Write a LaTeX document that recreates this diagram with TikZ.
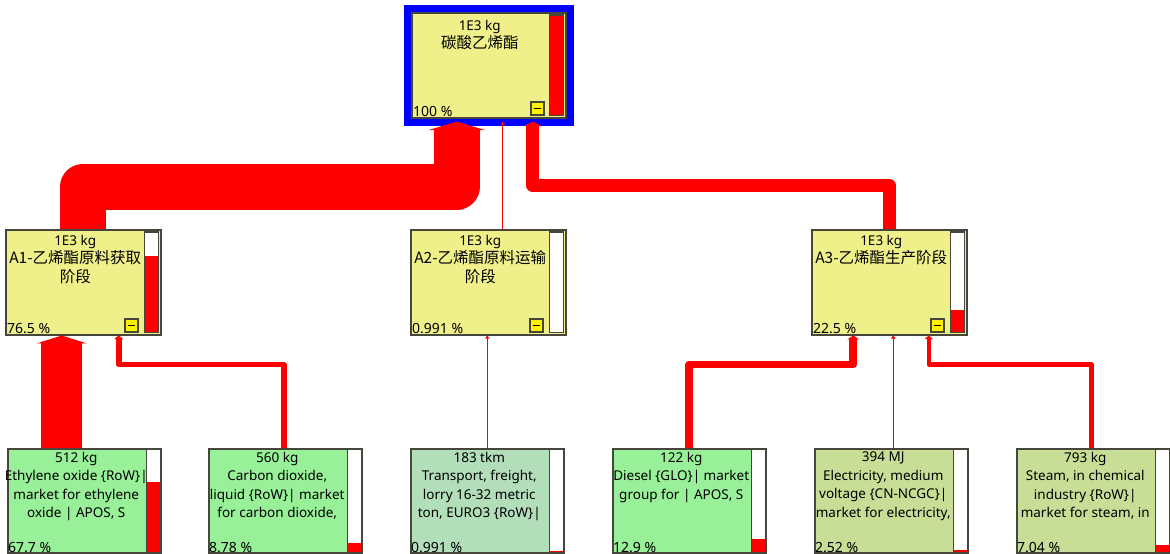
\documentclass[tikz,border=0pt]{standalone}
\usepackage{fontspec}
\setmainfont{Noto Sans}
\newfontfamily\cjk{Noto Sans CJK SC}
\usetikzlibrary{calc,arrows.meta}

\definecolor{procyellow}{RGB}{240,240,138}
\definecolor{procgreen}{RGB}{152,240,152}
\definecolor{transgreen}{RGB}{178,222,186}
\definecolor{olivegreen}{RGB}{200,222,150}
\definecolor{boxgray}{RGB}{70,70,60}

\tikzset{
  procbox/.style={draw=boxgray, line width=1.5pt, minimum width=155pt, minimum height=105pt, anchor=north west, inner sep=0pt},
  proctext/.style={anchor=north, align=center, inner sep=0pt, font=\fontsize{13.5}{18.5}\selectfont},
  pcttext/.style={anchor=south west, inner sep=2pt, font=\fontsize{14}{16}\selectfont},
  minusbox/.style={draw=boxgray, line width=1.2pt, fill=yellow, minimum size=13pt, inner sep=0pt, anchor=south east},
  flow/.style={draw=red, line join=round, -{Triangle[width=3pt 1.15, length=3pt 0.12]}},
}

% result bar: node, inset, fraction
\newcommand{\resbar}[3]{
  \coordinate (#1-bb) at ($(#1.south east)+(-#2pt,#2pt)$);
  \coordinate (#1-bt) at ($(#1.north east)+(-#2pt,-#2pt)$);
  \fill[white] ($(#1-bb)+(-14pt,0pt)$) rectangle (#1-bt);
  \fill[red] ($(#1-bb)+(-14pt,0pt)$) rectangle ($(#1-bb)!#3!(#1-bt)$);
  \draw[boxgray, line width=1.2pt] ($(#1-bb)+(-14pt,0pt)$) rectangle (#1-bt);
}
\newcommand{\cjkline}[1]{{\cjk\fontsize{15.5}{18.5}\selectfont #1}}

\begin{document}
\begin{tikzpicture}[x=1pt, y=-1pt]
  \useasboundingbox (0,0) rectangle (1170,554);

  % top process
  \node[procbox, fill=procyellow, minimum width=154pt] (top) at (411,12) {};
  \draw[blue, line width=7pt] ($(top.north west)+(-4pt,4pt)$) rectangle ($(top.south east)+(4pt,-4pt)$);
  \node[proctext] at ($(top.north)+(-9pt,-8pt)$) {1E3 kg\\\cjkline{碳酸乙烯酯}};
  \node[pcttext] at (top.south west) {100 \%};
  \resbar{top}{3}{1}
  \node[minusbox] at ($(top-bb)+(-19pt,0pt)$) {\rule{7pt}{1.2pt}};

  % life cycle stages
  \node[procbox, fill=procyellow] (a1) at (5,229) {};
  \node[procbox, fill=procyellow] (a2) at (410,229) {};
  \node[procbox, fill=procyellow] (a3) at (811,229) {};
  \node[proctext] at ($(a1.north)+(-8pt,-6pt)$) {1E3 kg\\\cjkline{A1-乙烯酯原料获取}\\\cjkline{阶段}};
  \node[proctext] at ($(a2.north)+(-8pt,-6pt)$) {1E3 kg\\\cjkline{A2-乙烯酯原料运输}\\\cjkline{阶段}};
  \node[proctext] at ($(a3.north)+(-8pt,-6pt)$) {1E3 kg\\\cjkline{A3-乙烯酯生产阶段}};
  \node[pcttext] at (a1.south west) {76.5 \%};
  \node[pcttext] at (a2.south west) {0.991 \%};
  \node[pcttext] at (a3.south west) {22.5 \%};
  \resbar{a1}{3}{0.765}
  \resbar{a2}{3}{0.00991}
  \resbar{a3}{3}{0.225}
  \node[minusbox] at ($(a1-bb)+(-20pt,0pt)$) {\rule{7pt}{1.2pt}};
  \node[minusbox] at ($(a2-bb)+(-20pt,0pt)$) {\rule{7pt}{1.2pt}};
  \node[minusbox] at ($(a3-bb)+(-20pt,0pt)$) {\rule{7pt}{1.2pt}};

  % input processes
  \node[procbox, fill=procgreen, minimum width=153pt, minimum height=104pt] (b1) at (7,448) {};
  \node[procbox, fill=procgreen, minimum width=153pt, minimum height=104pt] (b2) at (208,448) {};
  \node[procbox, fill=transgreen, minimum width=153pt, minimum height=104pt] (b3) at (410,448) {};
  \node[procbox, fill=procgreen, minimum width=153pt, minimum height=104pt] (b4) at (612,448) {};
  \node[procbox, fill=olivegreen, minimum width=153pt, minimum height=104pt] (b5) at (814,448) {};
  \node[procbox, fill=olivegreen, minimum width=153pt, minimum height=104pt] (b6) at (1016,448) {};
  \node[proctext] at ($(b1.north)+(-8pt,-4pt)$) {512 kg\\Ethylene oxide \{RoW\}|\\market for ethylene\\oxide | APOS, S};
  \node[proctext] at ($(b2.north)+(-8pt,-4pt)$) {560 kg\\Carbon dioxide,\\liquid \{RoW\}| market\\for carbon dioxide,};
  \node[proctext] at ($(b3.north)+(-8pt,-4pt)$) {183 tkm\\Transport, freight,\\lorry 16-32 metric\\ton, EURO3 \{RoW\}|};
  \node[proctext] at ($(b4.north)+(-8pt,-4pt)$) {122 kg\\Diesel \{GLO\}| market\\group for | APOS, S};
  \node[proctext] at ($(b5.north)+(-8pt,-4pt)$) {394 MJ\\Electricity, medium\\voltage \{CN-NCGC\}|\\market for electricity,};
  \node[proctext] at ($(b6.north)+(-8pt,-4pt)$) {793 kg\\Steam, in chemical\\industry \{RoW\}|\\market for steam, in};
  \node[pcttext, inner sep=1pt] at (b1.south west) {67.7 \%};
  \node[pcttext, inner sep=1pt] at (b2.south west) {8.78 \%};
  \node[pcttext, inner sep=1pt] at (b3.south west) {0.991 \%};
  \node[pcttext, inner sep=1pt] at (b4.south west) {12.9 \%};
  \node[pcttext, inner sep=1pt] at (b5.south west) {2.52 \%};
  \node[pcttext, inner sep=1pt] at (b6.south west) {7.04 \%};
  \resbar{b1}{1}{0.677}
  \resbar{b2}{1}{0.0878}
  \resbar{b3}{1}{0.00991}
  \resbar{b4}{1}{0.129}
  \resbar{b5}{1}{0.0252}
  \resbar{b6}{1}{0.0704}

  % flows into the top process
  \draw[flow, line width=46pt] (a1.north) |- ($(top.south)+(-32pt,-68pt)$) -- ($(top.south)+(-32pt,-3pt)$);
  \draw[flow, line width=1pt] ([xshift=14.5pt]a2.north) -- ([xshift=14pt,yshift=-3pt]top.south);
  \draw[flow, line width=13pt] (a3.north) |- ($(top.south)+(44pt,-67pt)$) -- ($(top.south)+(44pt,-3pt)$);

  % flows into the stages
  \draw[flow, line width=41pt] ([xshift=-22.5pt]b1.north) -- ([xshift=-22.5pt]b1.north |- a1.south);
  \draw[flow, line width=5.5pt] ([xshift=-1.5pt]b2.north) |- ($(a1.south)+(35.5pt,-29pt)$) -- ($(a1.south)+(35.5pt,0pt)$);
  \draw[flow, line width=1pt] (b3.north) -- (b3.north |- a2.south);
  \draw[flow, line width=7.7pt] (b4.north) |- ($(a3.south)+(-36pt,-29pt)$) -- ($(a3.south)+(-36pt,0pt)$);
  \draw[flow, line width=1.5pt] ([xshift=2pt]b5.north) -- ([xshift=2pt]b5.north |- a3.south);
  \draw[flow, line width=4.5pt] ([xshift=-2pt]b6.north) |- ($(a3.south)+(39.5pt,-29pt)$) -- ($(a3.south)+(39.5pt,0pt)$);
\end{tikzpicture}
\end{document}
